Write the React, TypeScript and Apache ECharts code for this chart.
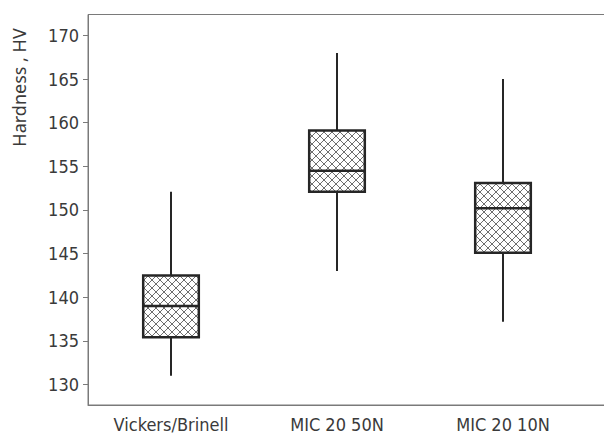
import { useEffect, useRef } from "react";
import * as echarts from "echarts";

const categories = ["Vickers/Brinell", "MIC 20 50N", "MIC 20 10N"];
const whiskerLow = [131, 143, 137.2];
const q1 = [135.4, 152.1, 145.1];
const median = [139, 154.5, 150.2];
const q3 = [142.5, 159.1, 153.1];
const whiskerHigh = [152.1, 168, 165];
const yTicks = [130, 135, 140, 145, 150, 155, 160, 165, 170];
const yName = "Hardness , HV";

function makeHatch() {
  const p = 8;
  const c = document.createElement("canvas");
  c.width = p;
  c.height = p;
  const ctx = c.getContext("2d")!;
  ctx.fillStyle = "#ffffff";
  ctx.fillRect(0, 0, p, p);
  ctx.strokeStyle = "#6e6e6e";
  ctx.lineWidth = 1;
  ctx.beginPath();
  ctx.moveTo(-1, -1);
  ctx.lineTo(p + 1, p + 1);
  ctx.moveTo(p + 1, -1);
  ctx.lineTo(-1, p + 1);
  ctx.stroke();
  return { image: c, repeat: "repeat", imageWidth: p, imageHeight: p } as any;
}

export default function App() {
  const ref = useRef<HTMLDivElement>(null);
  useEffect(() => {
    if (!ref.current) return;
    const chart = echarts.init(ref.current, null, { renderer: "svg" });
    const hatch = makeHatch();
    const dark = "#262626";
    const axisColor = "#7a7a7a";
    const textColor = "#3a3a3a";
    const data = categories.map((_, i) => [
      i,
      whiskerLow[i],
      q1[i],
      median[i],
      q3[i],
      whiskerHigh[i],
    ]);
    chart.setOption({
      animation: false,
      grid: {
        left: 88,
        top: 14.5,
        bottom: 28,
        width: 664,
        outerBoundsMode: "none",
        containLabel: false,
        show: true,
        borderColor: axisColor,
        borderWidth: 1,
      },
      xAxis: {
        type: "category",
        data: categories,
        max: 3,
        axisLine: { lineStyle: { color: axisColor, width: 1 } },
        axisTick: { alignWithLabel: true, interval: 0, length: 4, lineStyle: { color: axisColor } },
        axisLabel: {
          interval: 0,
          color: textColor,
          fontFamily: "DejaVu Sans Condensed",
          fontSize: 18,
          margin: 10,
        },
        splitLine: { show: false },
      },
      yAxis: {
        type: "value",
        min: 127.65,
        max: 172.4,
        axisLine: { show: true, lineStyle: { color: axisColor, width: 1 } },
        axisTick: { show: true, length: 5, customValues: yTicks, lineStyle: { color: axisColor } },
        axisLabel: {
          customValues: yTicks,
          color: textColor,
          fontFamily: "DejaVu Sans Condensed",
          fontSize: 18,
          margin: 9,
        },
        splitLine: { show: false },
      },
      graphic: [
        {
          type: "text",
          x: 18.5,
          y: 87.5,
          rotation: Math.PI / 2,
          style: {
            text: yName,
            fill: textColor,
            font: '18px "Noto Sans"',
            align: "center",
            verticalAlign: "middle",
          },
        },
      ],
      series: [
        {
          type: "custom",
          data,
          encode: { x: 0, y: [1, 2, 3, 4, 5] },
          renderItem: (params: any, api: any) => {
            const i = api.value(0);
            const xc = api.coord([i, api.value(1)])[0];
            const yLow = api.coord([i, api.value(1)])[1];
            const yQ1 = api.coord([i, api.value(2)])[1];
            const yMed = api.coord([i, api.value(3)])[1];
            const yQ3 = api.coord([i, api.value(4)])[1];
            const yHigh = api.coord([i, api.value(5)])[1];
            const bw = api.size([1, 0])[0] * 0.335;
            return {
              type: "group",
              children: [
                {
                  type: "line",
                  shape: { x1: xc, y1: yHigh, x2: xc, y2: yQ3 },
                  style: { stroke: dark, lineWidth: 2 },
                },
                {
                  type: "line",
                  shape: { x1: xc, y1: yQ1, x2: xc, y2: yLow },
                  style: { stroke: dark, lineWidth: 2 },
                },
                {
                  type: "rect",
                  shape: { x: xc - bw / 2, y: yQ3, width: bw, height: yQ1 - yQ3 },
                  style: { fill: hatch, stroke: dark, lineWidth: 2.5 },
                },
                {
                  type: "line",
                  shape: { x1: xc - bw / 2, y1: yMed, x2: xc + bw / 2, y2: yMed },
                  style: { stroke: dark, lineWidth: 2.5 },
                },
              ],
            };
          },
        },
      ],
    });
    return () => chart.dispose();
  }, []);
  return (
    <div
      ref={ref}
      style={{ position: "fixed", left: 0, top: 0, width: 604, height: 433, background: "#fff" }}
    />
  );
}
